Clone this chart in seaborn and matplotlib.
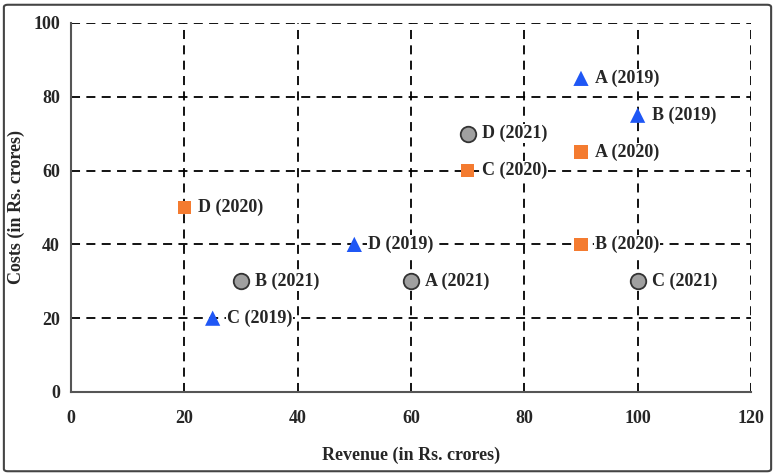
import numpy as np
import pandas as pd
import matplotlib.pyplot as plt
import seaborn as sns
from matplotlib.patches import FancyBboxPatch

# Dados
companies = ['A', 'B', 'C', 'D']
revenue_2019 = [90, 100, 25, 50]
costs_2019 = [85, 75, 20, 40]
revenue_2020 = [90, 90, 70, 20]
costs_2020 = [65, 40, 60, 50]
revenue_2021 = [60, 30, 100, 70]
costs_2021 = [30, 30, 30, 70]

x_ticks = [0, 20, 40, 60, 80, 100, 120]
y_ticks = [0, 20, 40, 60, 80, 100]

df = pd.DataFrame({
    'company': companies * 3,
    'year': ['2019'] * 4 + ['2020'] * 4 + ['2021'] * 4,
    'revenue': revenue_2019 + revenue_2020 + revenue_2021,
    'costs': costs_2019 + costs_2020 + costs_2021,
})

sns.set_style('white')
plt.rcParams['font.family'] = ['Liberation Serif', 'DejaVu Serif']
plt.rcParams['font.weight'] = 'bold'

fig = plt.figure(figsize=(7.75, 4.76), dpi=100)
ax = fig.add_axes([0.0916, 0.1765, 0.8774, 0.7752])

# grade tracejada
for xv in x_ticks[1:]:
    ax.axvline(xv, color='black', lw=1.3, ls=(0, (5, 3.5)), zorder=1)
for yv in y_ticks[1:]:
    ax.axhline(yv, color='black', lw=1.3, ls=(0, (5, 3.5)), zorder=1)

palette = {'2019': '#1f57f5', '2020': '#f47b30', '2021': '#a0a0a0'}
markers = {'2019': '^', '2020': 's', '2021': 'o'}
sizes = {'2019': 120, '2020': 95, '2021': 125}

for yr in ['2019', '2020', '2021']:
    sub = df[df['year'] == yr]
    sns.scatterplot(data=sub, x='revenue', y='costs', color=palette[yr],
                    marker=markers[yr], s=sizes[yr],
                    edgecolor='#333333' if yr == '2021' else 'none',
                    linewidth=1.3 if yr == '2021' else 0,
                    legend=False, ax=ax, zorder=3)

for _, r in df.iterrows():
    ax.annotate(f"{r['company']} ({r['year']})", (r['revenue'], r['costs']),
                xytext=(10, 0), textcoords='offset points', va='center',
                ha='left', fontsize=13, fontweight='bold', zorder=4,
                bbox=dict(boxstyle='square,pad=0.05', fc='white', ec='none'))

ax.set_xlim(0, 120)
ax.set_ylim(0, 100)
ax.set_xticks(x_ticks)
ax.set_yticks(y_ticks)
ax.tick_params(axis='both', length=0, labelsize=13)
ax.tick_params(axis='x', pad=13)
ax.tick_params(axis='y', pad=8)
ax.set_xlabel('Revenue (in Rs. crores)', fontsize=13, fontweight='bold', labelpad=14)
ax.set_ylabel('Costs (in Rs. crores)', fontsize=13, fontweight='bold', labelpad=6)

ax.spines['top'].set_visible(False)
ax.spines['right'].set_visible(False)
ax.spines['left'].set_color('#555555')
ax.spines['bottom'].set_color('#555555')
ax.spines['left'].set_linewidth(1.5)
ax.spines['bottom'].set_linewidth(1.5)

# moldura da figura
border = FancyBboxPatch((0.005, 0.01), 0.99, 0.98, boxstyle='round,pad=0,rounding_size=0.005',
                        transform=fig.transFigure, fill=False, edgecolor='#444444', lw=1.5)
fig.patches.append(border)

fig.savefig('out.png', dpi=100)
